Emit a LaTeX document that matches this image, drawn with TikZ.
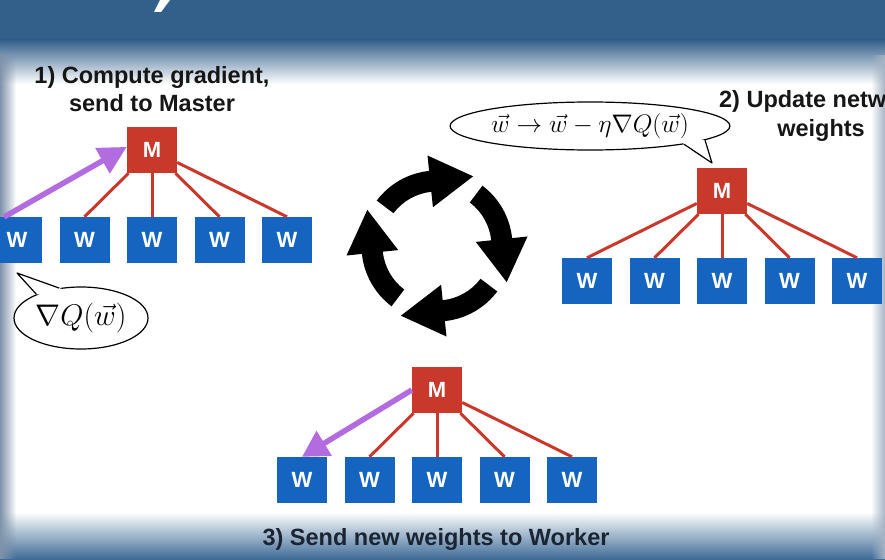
\documentclass[tikz,border=0pt]{standalone}
\usepackage{graphicx}
\usepackage[no-math]{fontspec}
\setmainfont{Liberation Sans}
\usetikzlibrary{arrows.meta,shapes.geometric,fadings}

\definecolor{hdrblue}{HTML}{33608B}
\definecolor{ftrblue}{HTML}{3F6B96}
\definecolor{ftrmid}{HTML}{C3D0DD}
\definecolor{sidegray}{HTML}{7F93AA}
\definecolor{mred}{HTML}{C8382B}
\definecolor{wblue}{HTML}{1464C0}
\definecolor{sendviolet}{HTML}{B36BE0}
\definecolor{inkdark}{HTML}{161616}
\definecolor{inkfoot}{HTML}{1B2433}

\tikzset{
  nodebox/.style={minimum width=50pt, minimum height=46pt, inner sep=0pt,
    text=white, font=\bfseries\fontsize{22}{22}\selectfont},
  mbox/.style={nodebox, fill=mred},
  wbox/.style={nodebox, fill=wblue},
  link/.style={draw=mred, line width=3pt},
  sendarrow/.style={draw=sendviolet, line width=5.5pt,
    -{Triangle[length=28pt,width=28pt]}},
  caption/.style={font=\bfseries\fontsize{23.5}{27}\selectfont,
    text=inkdark, inner sep=0pt, anchor=base},
  bubble/.style={ellipse, draw=black, fill=white, line width=1.2pt, inner sep=0pt},
  bubbletail/.style={draw=black, line width=1.2pt, line join=round},
}

\begin{document}
\begin{tikzpicture}[x=1pt, y=-1pt]
  \useasboundingbox (0,0) rectangle (885,559);
  \clip (0,0) rectangle (885,559);

  % slide background
  \fill[white] (0,0) rectangle (885,559);
  \fill[hdrblue] (0,0) rectangle (885,41);
  \shade[top color=hdrblue, bottom color=white] (0,40) rectangle (885,84);
  \shade[top color=white, middle color=ftrmid, bottom color=ftrblue] (0,512) rectangle (885,559);
  \fill[sidegray, path fading=east] (0,55) rectangle (16,559);
  \fill[sidegray!70, path fading=west] (871,55) rectangle (885,559);
  % tail of a title letter
  \fill[white] (160,0) -- (170,0) -- (161,12) -- (154,12) -- cycle;

  % ---- step 1: worker sends gradient ----
  \node[mbox] (m1) at (152,150) {M};
  \foreach \i in {1,...,5}
    \node[wbox] (w1\i) at ({152+67.5*(\i-3)},240) {W};
  \foreach \i in {2,...,5}
    \draw[link] (m1) -- (w1\i.north);
  \coordinate (s1) at (4,217);
  \draw[sendarrow] (s1) -- (m1.173);

  \node[bubble, minimum width=134pt, minimum height=62pt] (b1) at (81,318)
    {\fontsize{24.88}{27}\selectfont\scalebox{1.2}{$\nabla Q(\vec{w})$}};
  \coordinate (b1tip) at (17,273);
  \fill[white] (b1.152) -- (b1tip) -- (b1.126) -- (94,300) -- cycle;
  \draw[bubbletail] (b1.152) -- (b1tip) -- (b1.126);

  \node[caption] (cap1a) at (152,84) {1) Compute gradient,};
  \node[caption] (cap1b) at (152,111) {send to Master};

  % ---- step 2: master updates weights ----
  \node[mbox] (m2) at (722,191) {M};
  \foreach \i in {1,...,5}
    \node[wbox] (w2\i) at ({722+67.5*(\i-3)},281) {W};
  \foreach \i in {1,...,5}
    \draw[link] (m2) -- (w2\i.north);

  \node[bubble, minimum width=252pt, minimum height=48pt] (b2) at (590,126)
    {\fontsize{24.88}{27}\selectfont\scalebox{1.02}{$\vec{w}\to\vec{w}-\eta\nabla Q(\vec{w})$}};
  \coordinate (b2tip) at (712,163);
  \fill[white] (b2.-11) -- (b2tip) -- (b2.-7.5) -- (680,138) -- cycle;
  \draw[bubbletail] (b2.-11) -- (b2tip) -- (b2.-7.5);

  \node[caption] (cap2a) at (821,108) {2) Update network};
  \node[caption] (cap2b) at (821,136) {weights};

  % ---- step 3: master sends weights back ----
  \node[mbox] (m3) at (437,390) {M};
  \foreach \i in {1,...,5}
    \node[wbox] (w3\i) at ({437+67.5*(\i-3)},480) {W};
  \foreach \i in {2,...,5}
    \draw[link] (m3) -- (w3\i.north);
  \draw[sendarrow, -{Triangle[length=26pt,width=28pt]}] (m3.west) -- (w31.north);

  \node[caption, text=inkfoot] (cap3) at (436,545) {3) Send new weights to Worker};

  % ---- cycle of four curved arrows ----
  \begin{scope}[shift={(437,246)}, x=1pt, y=1pt]
    \foreach \k in {0,1,2,3}
      \fill[black, rotate=-90*\k]
        (143:75.5) arc[start angle=143, end angle=96, radius=75.5]
        -- (96:91) -- (62.6:78.5) -- (96:39) -- (96:54.5)
        arc[start angle=96, end angle=143, radius=54.5] -- cycle;
  \end{scope}
\end{tikzpicture}
\end{document}
